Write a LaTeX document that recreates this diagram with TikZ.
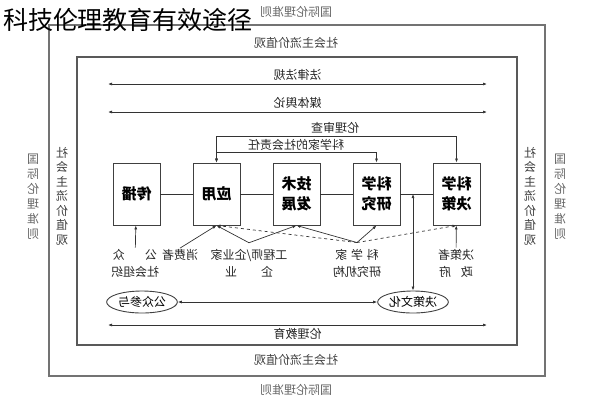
\documentclass[tikz,border=0pt]{standalone}
\usepackage{fontspec}
\setmainfont{Noto Sans CJK SC}
\usetikzlibrary{arrows.meta,shapes.geometric}

\tikzset{
    mirrored/.style={xscale=-1},
    frame/.style={draw=black!55, line width=1.4pt},
    outer/.style={mirrored, text=black!60, font=\fontsize{12}{15}\selectfont},
    inner/.style={mirrored, text=black!75, font=\fontsize{12}{14.5}\selectfont},
    lbl/.style={mirrored, text=black!85, font=\fontsize{12}{17}\selectfont, align=center, inner sep=1pt},
    box/.style={draw=black!75, line width=0.9pt, minimum width=47pt, minimum height=62pt,
        align=center, mirrored, font=\fontsize{15}{20}\selectfont\bfseries},
    oval/.style={ellipse, draw=black!75, line width=0.9pt, minimum width=67pt, minimum height=22pt,
        inner sep=1pt, mirrored, font=\fontsize{12}{13}\selectfont},
}

\begin{document}
\begin{tikzpicture}[x=1pt, y=-1pt, line width=0.7pt, draw=black!80,
    >={Latex[length=4pt,width=3pt]}]
    \useasboundingbox (0,0) rectangle (592,400);
    % frames
    \draw[frame] (49,25) rectangle (545,376);
    \draw[frame, draw=black!65] (77,57) rectangle (517,345);
    \node[font=\fontsize{25}{28}\selectfont] (title) at (128,20) {科技伦理教育有效途径};

    \node[outer] (gjt) at (296,12) {国际伦理准则};
    \node[outer] (gjb) at (296,390) {国际伦理准则};
    \node[outer, align=center] (gjl) at (33,197) {国\\际\\伦\\理\\准\\则};
    \node[outer, align=center] (gjr) at (560,197) {国\\际\\伦\\理\\准\\则};
    \node[inner] (zlt) at (296,43) {社会主流价值观};
    \node[inner] (zlb) at (296,360) {社会主流价值观};
    \node[inner, align=center] (zll) at (62,196) {社\\会\\主\\流\\价\\值\\观};
    \node[inner, align=center] (zlr) at (530,196) {社\\会\\主\\流\\价\\值\\观};

    % long arrows
    \coordinate (fl-w) at (108,84);  \coordinate (fl-e) at (487,84);
    \coordinate (mt-w) at (108,112); \coordinate (mt-e) at (487,112);
    \coordinate (jy-w) at (108,325); \coordinate (jy-e) at (487,325);
    \draw[<->] (fl-w) -- node[lbl, above=2pt] (flfg) {法律法规} (fl-e);
    \draw[<->] (mt-w) -- node[lbl, above=2pt] (mtyl) {媒体舆论} (mt-e);
    \draw[<->] (jy-w) -- node[lbl, below=2pt] (lljy) {伦理教育} (jy-e);

    % boxes
    \node[box] (cb) at (136.5,194) {传播};
    \node[box] (yy) at (216.5,194) {应用};
    \node[box] (js) at (296.5,194) {技术\\发展};
    \node[box] (yj) at (376.5,194) {科学\\研究};
    \node[box] (jc) at (456.5,194) {科学\\决策};
    \draw (cb) -- (yy) -- (js) -- (yj) -- (jc);

    \draw[<->] (yy.north) -- ++(0,-26) -| (jc.north);
    \draw[<->] (yy.north) -- ++(0,-10) -| (yj.north);
    \node[lbl] (llsc) at (335,128) {伦理审查};
    \node[lbl] (shzr) at (296,145) {科学家的社会责任};

    % actors
    \node[lbl] (gz) at (135,263) {公\hspace{1.7em}众\\社会组织};
    \node[lbl] (xfz) at (180,255) {消费者};
    \node[lbl] (gcs) at (249,263) {工程师/企业家\\企\hspace{2em}业};
    \node[lbl] (kxj) at (357,263) {科\hspace{0.3em}学\hspace{0.3em}家\\研究机构};
    \node[lbl] (jcz) at (456,263) {决策者\\政\hspace{0.8em}府};
    \coordinate (gq) at ([yshift=5pt]gcs.north);
    \coordinate (kx) at ([yshift=5pt]kxj.north);

    \draw[->] (gz) -- (cb);
    \draw[->] (xfz.north) -- (yy.south);
    \draw[->] (gq) -- (yy.south);
    \draw[->] (gq) -- (js.south);
    \draw[->] (kx) -- (js.south);
    \draw[->] (kx) -- (yj.south);
    \draw[->, dashed] (kx) -- (yy.south);
    \draw[->, dashed] (kx) -- (jc.south);
    \draw[->] (jcz) -- (jc);

    % culture
    \node[oval] (gzcy) at (142,302) {公众参与};
    \node[oval] (jcwh) at (413,302) {决策文化};
    \draw[<->] (gzcy) -- (jcwh);
    \draw[<->] (jcwh.north) -- (jcwh.north |- jc.west);
\end{tikzpicture}
\end{document}
